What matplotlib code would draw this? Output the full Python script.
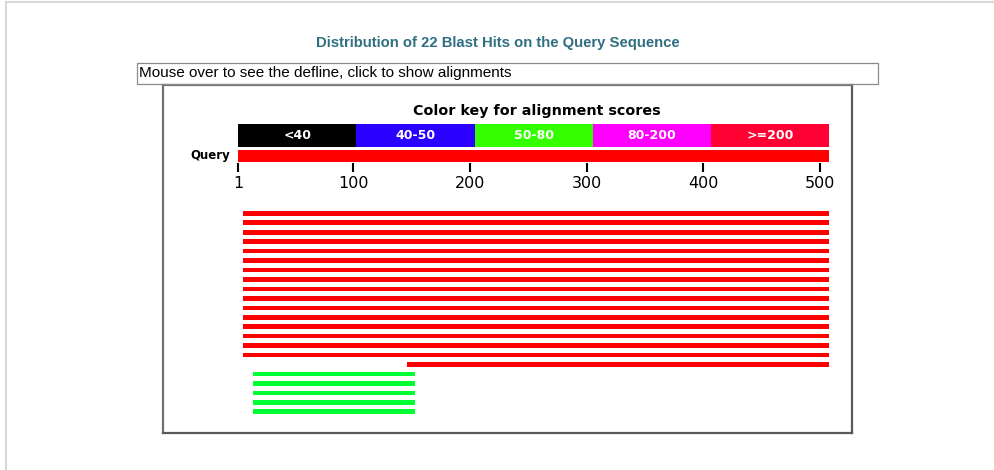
import numpy as np
import matplotlib
matplotlib.use("Agg")
import matplotlib.pyplot as plt
from matplotlib.patches import Rectangle
from matplotlib.lines import Line2D

# --- data ---
title = "Distribution of 22 Blast Hits on the Query Sequence"
hint = "Mouse over to see the defline, click to show alignments"
query_len = 508
key_labels = ["<40", "40-50", "50-80", "80-200", ">=200"]
key_colors = ["#000000", "#2a00ff", "#33ff00", "#ff00ff", "#ff0033"]
tick_positions = [1, 100, 200, 300, 400, 500]

hit_starts = [5] * 16 + [146] + [14] * 5
hit_ends = [508] * 16 + [508] + [153] * 5
hit_class = [">=200"] * 17 + ["50-80"] * 5

W, H = 995, 470
fig = plt.figure(figsize=(W / 100, H / 100), dpi=100)
fig.patch.set_facecolor("white")


def fx(px):
    return px / W


def fy(py):
    return 1 - py / H


# outer light frame (left + top only, rest runs off the page)
fig.add_artist(Line2D([fx(6), fx(6)], [fy(2), fy(H)], color="#d8d8d8", lw=1.5))
fig.add_artist(Line2D([fx(6), fx(W)], [fy(2), fy(2)], color="#d8d8d8", lw=1.5))

fig.text(fx(498), fy(43), title, ha="center", va="center", fontsize=10.7,
         fontweight="bold", color="#2f6f80",
         family=["Liberation Sans Narrow", "Liberation Sans"])

# defline box
fig.add_artist(Rectangle((fx(137), fy(84)), fx(878) - fx(137), fy(63) - fy(84),
                         transform=fig.transFigure, fill=False,
                         edgecolor="#8a8a8a", lw=0.9))
fig.text(fx(139), fy(73.5), hint, ha="left", va="center", fontsize=11,
         family="Liberation Sans", color="black")

# main panel: x in sequence coordinates, y in pixel rows
left, right, top, bottom = 163, 852, 85, 433
ax = fig.add_axes([fx(left), fy(bottom), fx(right) - fx(left), fy(top) - fy(bottom)])
px_per_res = (820 - 238) / 499
ax.set_xlim(1 - (238 - left) / px_per_res, 1 + (right - 238) / px_per_res)
ax.set_ylim(bottom, top)
ax.set_xticks([])
ax.set_yticks([])
for side, sp in ax.spines.items():
    sp.set_linewidth(1.6)
    sp.set_color("#5a5a5a" if side in ("right", "bottom") else "#707070")

# color key
ax.text((1 + query_len) / 2 + 3, 111, "Color key for alignment scores", ha="center",
        va="center", fontsize=10.3, fontweight="bold")
edges = np.linspace(1, query_len, len(key_labels) + 1)
ax.barh(135.3, np.diff(edges), left=edges[:-1], height=23.5, color=key_colors)
for lab, x0, x1 in zip(key_labels, edges[:-1], edges[1:]):
    ax.text((x0 + x1) / 2, 135.3, lab, ha="center", va="center", color="white",
            fontsize=9, fontweight="semibold")

# query bar + ruler
ax.barh(155.8, query_len - 1, left=1, height=11.5, color="#ff0000")
ax.text(-6, 156, "Query", ha="right", va="center", fontsize=8.5,
        fontweight="bold")
ax.vlines(tick_positions, 163, 171.5, color="black", lw=1.5)
for t in tick_positions:
    ax.text(t, 183, str(t), ha="center", va="center", fontsize=11.5)

# hits
cmap = dict(zip(key_labels, key_colors))
cmap[">=200"] = "#ff0000"
cmap["50-80"] = "#00ff33"
rows = 213.3 + np.arange(len(hit_starts)) * 9.45
ax.barh(rows, np.array(hit_ends) - np.array(hit_starts), left=hit_starts,
        height=4.6, color=[cmap[c] for c in hit_class])

fig.savefig("out.png", dpi=100, facecolor="white")
